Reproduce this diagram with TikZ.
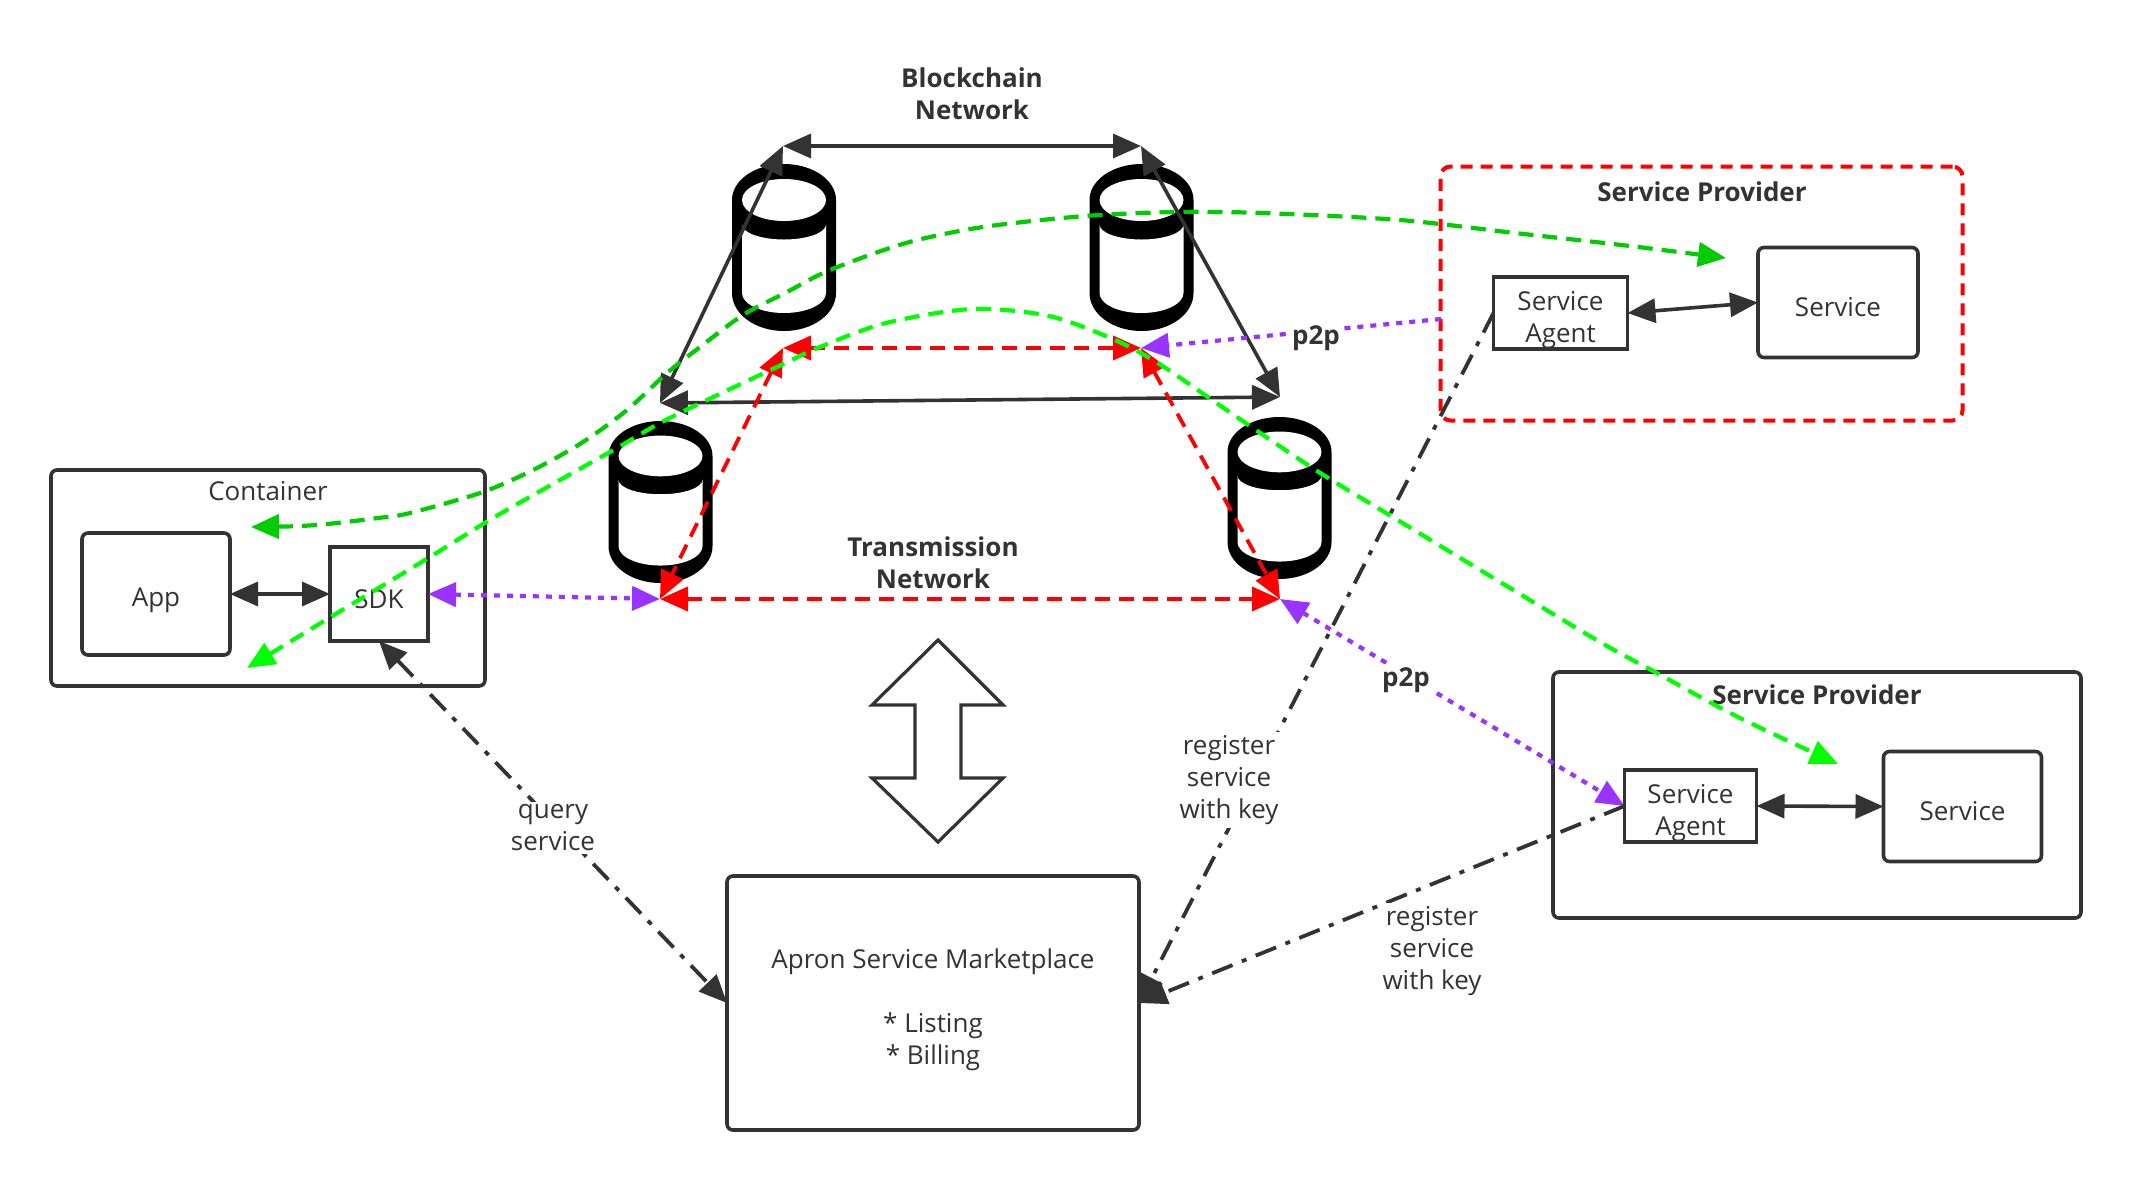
\documentclass[tikz,border=0pt]{standalone}
\usepackage{fontspec}
\setmainfont{Open Sans}
\usetikzlibrary{arrows.meta}

\definecolor{inkgray}{HTML}{333333}
\definecolor{linkred}{HTML}{FF0000}
\definecolor{linkpurple}{HTML}{9933FF}
\definecolor{linkgreen}{HTML}{00CC00}
\definecolor{linklime}{HTML}{00FF00}

\tikzset{
  dbcyl/.pic={
    \fill[black] (-52,-47.5) arc[start angle=180, end angle=360, x radius=52, y radius=36]
      -- (52,45.5) arc[start angle=0, end angle=180, x radius=52, y radius=38] -- cycle;
    \fill[white] (0,-47.5) ellipse [x radius=42, y radius=21];
    \fill[white] (-42,-23) -- (-42,45.5) arc[start angle=180, end angle=0, x radius=42, y radius=20]
      -- (42,-23) arc[start angle=0, end angle=180, x radius=42, y radius=15] -- cycle;
  },
  txt/.style={text=inkgray, font=\fontsize{13}{16}\selectfont, align=center, inner sep=0pt},
  boldtxt/.style={txt, font=\fontsize{13}{16}\selectfont\bfseries},
  gaptxt/.style={txt, fill=white, inner sep=1.5pt},
  roundbox/.style={txt, draw=inkgray, line width=1.8pt, fill=white, rounded corners=3pt, outer sep=0pt},
  sharpbox/.style={txt, draw=inkgray, line width=1.8pt, fill=white, outer sep=0pt},
  darklink/.style={<->, draw=inkgray, line width=1.8pt},
  redlink/.style={<->, draw=linkred, line width=1.9pt, dash pattern=on 7.5pt off 4.5pt},
  purplelink/.style={draw=linkpurple, line width=2.1pt, dash pattern=on 3pt off 3.5pt},
  greenlink/.style={<->, line width=2.1pt, dash pattern=on 7.5pt off 4.5pt},
  dashdotlink/.style={draw=inkgray, line width=1.9pt, dash pattern=on 11pt off 5pt on 2.5pt off 5pt},
}

\begin{document}
\begin{tikzpicture}[x=0.5pt, y=-0.5pt, >={Triangle[length=14pt, width=12pt]}]
\useasboundingbox (0,0) rectangle (2132,1180);

% 外框
\node[roundbox, minimum width=217pt, minimum height=108pt] (container) at (268,578) {};
\node[roundbox, draw=linkred, dash pattern=on 6pt off 4pt, line width=2pt, rounded corners=5pt,
  minimum width=261pt, minimum height=127pt] (provA) at (1701.5,293.5) {};
\node[roundbox, minimum width=264pt, minimum height=123pt] (provB) at (1817,795) {};

% 方框
\node[roundbox, text height=16pt, minimum width=74pt, minimum height=61pt] (app) at (156,594) {App};
\node[sharpbox, text height=15pt, minimum width=49pt, minimum height=47pt] (sdk) at (379,594) {SDK};
\node[sharpbox, text height=33pt, minimum width=67pt, minimum height=35pt] (agentA) at (1560.5,313) {Service\\Agent};
\node[roundbox, text height=14pt, minimum width=80pt, minimum height=55pt] (serviceA) at (1838,302.5) {Service};
\node[sharpbox, text height=33pt, minimum width=66pt, minimum height=35pt] (agentB) at (1690.5,806) {Service\\Agent};
\node[roundbox, text height=14pt, minimum width=79pt, minimum height=55pt] (serviceB) at (1962.5,806.5) {Service};
\node[roundbox, text height=65pt, minimum width=206pt, minimum height=127pt] (market) at (933,1003)
  {Apron Service Marketplace\\[16pt]* Listing\\* Billing};

% 框内标题
\node[txt] (containerlabel) at (268,491) {Container};
\node[boldtxt] (provAlabel) at (1702,192) {Service Provider};
\node[boldtxt] (provBlabel) at (1817,695) {Service Provider};

% 圆柱
\pic at (784,247.5) {dbcyl};
\pic at (1141.5,247.5) {dbcyl};
\pic[yscale=0.97] at (660.5,502) {dbcyl};
\pic[yscale=0.97] at (1279.5,498) {dbcyl};

% 链网顶点
\coordinate (chainTL) at (783,146);
\coordinate (chainTR) at (1141,146);
\coordinate (chainBL) at (660,403);
\coordinate (chainBR) at (1280,397);
\draw[darklink] (chainTL) -- (chainTR);
\draw[darklink] (chainTL) -- (chainBL);
\draw[darklink] (chainTR) -- (chainBR);
\draw[darklink] (chainBL) -- (chainBR);

% 传输网顶点
\coordinate (railTL) at (783,348);
\coordinate (railTR) at (1141,348);
\coordinate (railBL) at (660,599);
\coordinate (railBR) at (1280,599);
\draw[redlink] (railTL) -- (railTR);
\draw[redlink] (railTL) -- (railBL);
\draw[redlink] (railTR) -- (railBR);
\draw[redlink] (railBL) -- (railBR);

% 框之间的双向箭头
\draw[darklink] (app.east) -- (sdk.west);
\draw[darklink] (agentA.east) -- (serviceA.west);
\draw[darklink] (agentB.east) -- (serviceB.west);

% p2p 连线
\coordinate (purpleEnd) at (1441,319);
\draw[purplelink, <->] (sdk.east) -- (railBL);
\draw[purplelink, ->] (purpleEnd) -- (railTR);
\draw[purplelink, <->] (railBR) -- (agentB.west);

% 点划线
\draw[dashdotlink, <->] (sdk.south) -- (market.west);
\draw[dashdotlink, ->] (agentA.west) -- (market.east);
\draw[dashdotlink, ->] (agentB.west) -- (market.east);

% 绿色曲线
\coordinate (darkEnd) at (251,527);
\coordinate (darkStart) at (1726,258);
\draw[greenlink, draw=linkgreen] plot[smooth] coordinates {(darkEnd) (316,525) (378,518) (410,513) (483,492)
  (537,468) (583,442) (627,410) (667,373) (700,347) (743,315) (787,292) (830,270) (906,243) (983,227)
  (1085,216) (1176,212) (1263,213) (1400,220) (1515,233) (1630,246) (darkStart)};
\coordinate (limeEnd) at (247,668);
\coordinate (limeStart) at (1838,764);
\draw[greenlink, draw=linklime] plot[smooth] coordinates {(limeEnd) (334,615) (425,560) (493,518)
  (560,480) (617,448) (660,423) (707,400) (777,367) (820,347) (886,323) (972,309) (1049,316) (1115,340) (1161,365) (1228,411)
  (1314,469) (1391,516) (1500,582) (1600,642) (1655,672) (1738,717) (limeStart)};

% 大箭头
\draw[draw=inkgray, line width=1.6pt, fill=white]
  (938,640) -- (1003,705) -- (961,705) -- (961,778) -- (1003,778) -- (938,842)
  -- (872,778) -- (915,778) -- (915,705) -- (872,705) -- cycle;

% 文字
\node[boldtxt] (chainlabel) at (972,94) {Blockchain\\Network};
\node[boldtxt] (raillabel) at (933,563) {Transmission\\Network};
\node[gaptxt, font=\fontsize{13}{16}\selectfont\bfseries] (ptpA) at (1316,338) {p2p};
\node[gaptxt, font=\fontsize{13}{16}\selectfont\bfseries] (ptpB) at (1406,680) {p2p};
\node[gaptxt] (querylabel) at (553,828) {query\\service};
\node[gaptxt] (registerA) at (1229,780) {register\\service\\with key};
\node[gaptxt] (registerB) at (1432,951) {register\\service\\with key};

\end{tikzpicture}
\end{document}
